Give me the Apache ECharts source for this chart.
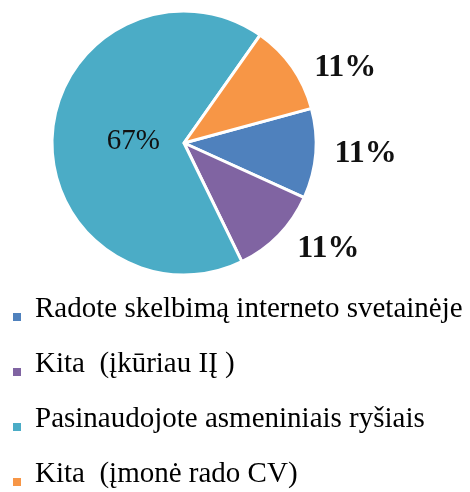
<!DOCTYPE html>
<html>
<head>
<meta charset="utf-8">
<script src="https://cdn.jsdelivr.net/npm/echarts@6/dist/echarts.min.js"></script>
<style>
  html, body { margin: 0; padding: 0; background: #fff; }
  #chart { width: 470px; height: 492px; }
</style>
</head>
<body>
<div id="chart"></div>
<script>
// kategorijos (legendos tvarka)
const categories = [
  'Radote skelbimą interneto svetainėje',
  'Kita  (įkūriau IĮ )',
  'Pasinaudojote asmeniniais ryšiais',
  'Kita  (įmonė rado CV)'
]
// procentai
const shares = [11, 11, 67, 11]
const colors = ['#4F81BD', '#8064A2', '#4BACC6', '#F79646']

const serif = 'Liberation Serif'

// etikečių išdėstymas kiekvienai skilčiai
const outsideLabel = (len, len2) => ({
  label: { position: 'outside', fontWeight: 'bold', fontSize: 32 },
  labelLine: { length: len, length2: len2 }
})
const labelCfg = [
  outsideLabel(0, 14),
  outsideLabel(19, 0),
  { label: { position: 'inside', fontWeight: 'normal', fontSize: 29, offset: [18, 4] } },
  outsideLabel(0, 17)
]

const chart = echarts.init(document.getElementById('chart'))
const option = {
  animation: false,
  color: colors,
  legend: {
    orient: 'vertical',
    left: 13,
    top: 294,
    padding: 0,
    // kvadratėlis apačioje, ties teksto linija
    icon: 'path://M0,0 M0,16 L8,16 L8,24 L0,24 Z',
    itemWidth: 8,
    itemHeight: 24,
    itemGap: 25,
    itemStyle: { borderWidth: 0 },
    data: categories,
    textStyle: {
      fontFamily: serif,
      fontSize: 29,
      color: '#000',
      lineHeight: 30,
      padding: [0, 0, 0, 9]
    }
  },
  series: [
    {
      type: 'pie',
      center: [184, 143],
      radius: 132,
      startAngle: 15.2,
      clockwise: true,
      avoidLabelOverlap: false,
      itemStyle: { borderColor: '#fff', borderWidth: 3 },
      label: {
        formatter: '{c}%',
        fontFamily: serif,
        color: '#111',
        distanceToLabelLine: 5
      },
      labelLine: { show: false },
      emphasis: { disabled: true },
      data: categories.map((name, i) => Object.assign({ name: name, value: shares[i] }, labelCfg[i]))
    }
  ]
}
chart.setOption(option)
</script>
</body>
</html>
